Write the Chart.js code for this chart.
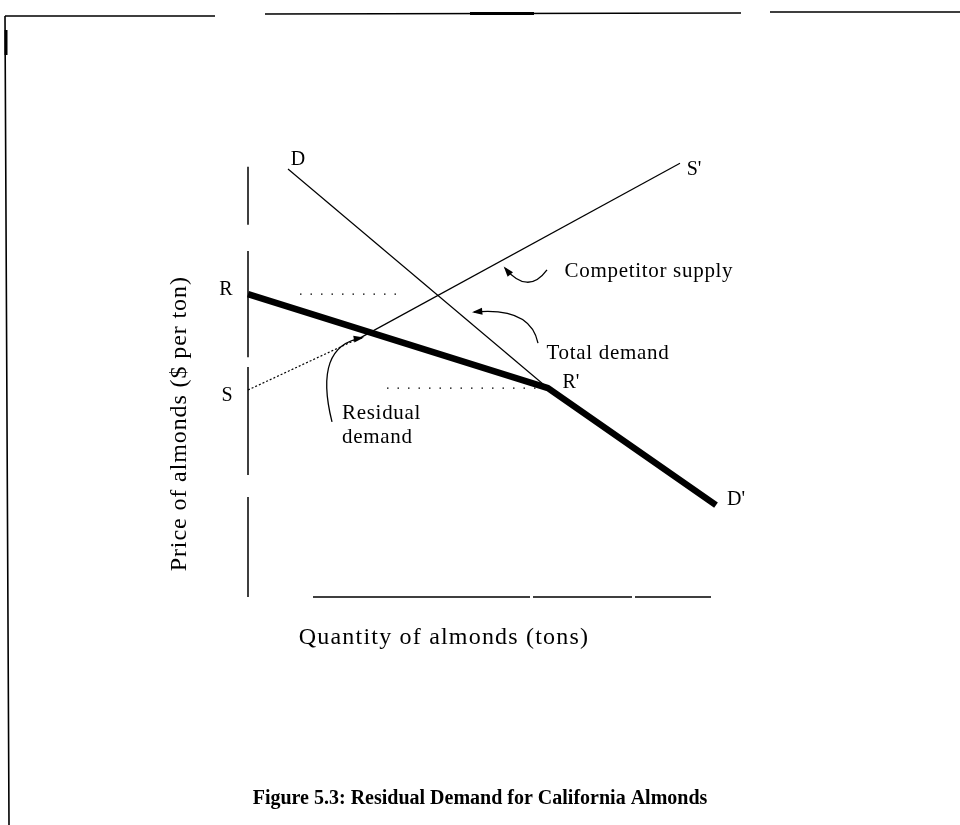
<!DOCTYPE html>
<html>
<head>
<meta charset="utf-8">
<script src="https://cdn.jsdelivr.net/npm/chart.js@4.4.1/dist/chart.umd.min.js"></script>
<style>
html,body{margin:0;padding:0;background:#fff;}
canvas{display:block;}
</style>
</head>
<body>
<canvas id="c" width="960" height="825" style="width:960px;height:825px"></canvas>
<script>
// ---- data (quantity, price in arbitrary units) ----
const totalDemandQ = [8, 60];
const totalDemandP = [95.1, 46.4];
const residualQ = [0, 60, 93.6];
const residualP = [67.3, 46.4, 20.4];
const supplyQ = [0, 22.8, 86.4];
const supplyP = [46.0, 57.8, 96.4];
const guideHighQ = [10.4, 30.4];
const guideHighP = [67.3, 67.3];
const guideLowQ = [27.8, 58.4];
const guideLowP = [46.4, 46.4];
const yAxisSegQ = [0, 0, null, 0, 0, null, 0, 0, null, 0, 0];
const yAxisSegP = [95.6, 82.7, null, 76.9, 53.3, null, 51.1, 27.1, null, 22.2, 0];
const xAxisSegQ = [13, 56.4, null, 57, 76.8, null, 77.4, 92.6];
const xAxisSegP = [0, 0, null, 0, 0, null, 0, 0];

const pts = (q, p) => q.map((v, i) => (v === null ? {x: NaN, y: NaN} : {x: v, y: p[i]}));

// annotation anchors (data units)
const curveLabels = [
  {t: 'R', x: -4.4, y: 68.2},
  {t: 'S', x: -4.2, y: 44.8},
  {t: 'D', x: 10, y: 97.1},
  {t: "S'", x: 89.2, y: 94.9},
  {t: "R'", x: 64.6, y: 47.6},
  {t: "D'", x: 97.6, y: 21.6}
];
const noteLabels = [
  {t: 'Competitor supply', x: 63.3, y: 72.4},
  {t: 'Total demand', x: 59.7, y: 54.2},
  {t: 'Residual', x: 18.8, y: 40.8},
  {t: 'demand', x: 18.8, y: 35.4}
];
const arrows = [
  {s: [59.8, 72.7], c: [56.0, 67.0], e: [51.4, 73.1]},
  {s: [58.0, 56.4], c: [56.5, 64.5], e: [45.2, 63.3]},
  {s: [16.8, 38.9], c: [13.0, 55.8], e: [22.8, 57.6]}
];
const xTitle = 'Quantity of almonds (tons)';
const yTitle = 'Price of almonds ($ per ton)';
const caption = 'Figure 5.3: Residual Demand for California Almonds';

const SERIF = '"Liberation Serif", "Times New Roman", serif';

const overlay = {
  id: 'overlay',
  afterDatasetsDraw(chart) {
    const ctx = chart.ctx;
    const xs = chart.scales.x, ys = chart.scales.y;
    const X = v => xs.getPixelForValue(v), Y = v => ys.getPixelForValue(v);
    ctx.save();
    ctx.fillStyle = '#000';
    ctx.strokeStyle = '#000';

    ctx.font = '20px ' + SERIF;
    ctx.textAlign = 'center';
    ctx.textBaseline = 'middle';
    curveLabels.forEach(l => ctx.fillText(l.t, X(l.x), Y(l.y)));

    ctx.font = '21px ' + SERIF;
    ctx.textAlign = 'left';
    ctx.letterSpacing = '0.7px';
    noteLabels.forEach(l => ctx.fillText(l.t, X(l.x), Y(l.y)));

    // arrows
    ctx.lineWidth = 1.3;
    arrows.forEach(a => {
      const sx = X(a.s[0]), sy = Y(a.s[1]);
      const cx = X(a.c[0]), cy = Y(a.c[1]);
      const ex = X(a.e[0]), ey = Y(a.e[1]);
      ctx.beginPath();
      ctx.moveTo(sx, sy);
      ctx.quadraticCurveTo(cx, cy, ex, ey);
      ctx.stroke();
      const ang = Math.atan2(ey - cy, ex - cx);
      const L = 9, W = 0.4;
      ctx.beginPath();
      ctx.moveTo(ex + 2 * Math.cos(ang), ey + 2 * Math.sin(ang));
      ctx.lineTo(ex - L * Math.cos(ang - W), ey - L * Math.sin(ang - W));
      ctx.lineTo(ex - L * Math.cos(ang + W), ey - L * Math.sin(ang + W));
      ctx.closePath();
      ctx.fill();
    });

    // axis titles
    ctx.font = '24px ' + SERIF;
    ctx.textAlign = 'center';
    ctx.letterSpacing = '1.2px';
    ctx.fillText(xTitle, X(39.2), Y(-9.1));
    ctx.save();
    ctx.letterSpacing = '0.9px';
    ctx.translate(X(-13.6), Y(38.5));
    ctx.rotate(-Math.PI / 2);
    ctx.fillText(yTitle, 0, 0);
    ctx.restore();

    // caption
    ctx.letterSpacing = '0px';
    ctx.font = 'bold 20px ' + SERIF;
    ctx.fillText(caption, chart.width / 2, 799);

    // scanned page frame
    ctx.lineWidth = 1.6;
    ctx.beginPath();
    ctx.moveTo(5, 16); ctx.lineTo(215, 16);
    ctx.moveTo(265, 14); ctx.lineTo(741, 13);
    ctx.moveTo(770, 12); ctx.lineTo(960, 12);
    ctx.moveTo(5, 16); ctx.lineTo(9, 825);
    ctx.stroke();
    ctx.lineWidth = 3;
    ctx.beginPath();
    ctx.moveTo(470, 13.5); ctx.lineTo(534, 13.5);
    ctx.moveTo(6, 30); ctx.lineTo(6, 55);
    ctx.stroke();
    ctx.restore();
  }
};

const thin = {borderColor: '#000', borderWidth: 1.3, pointRadius: 0, showLine: true, fill: false, spanGaps: false, clip: false};

new Chart(document.getElementById('c'), {
  type: 'scatter',
  data: {
    datasets: [
      Object.assign({}, thin, {label: 'y axis', data: pts(yAxisSegQ, yAxisSegP), borderWidth: 1.5}),
      Object.assign({}, thin, {label: 'x axis', data: pts(xAxisSegQ, xAxisSegP), borderWidth: 1.5}),
      Object.assign({}, thin, {label: 'Competitor supply (dotted)', data: pts(supplyQ.slice(0, 2), supplyP.slice(0, 2)), borderDash: [2, 2], borderWidth: 1.2}),
      Object.assign({}, thin, {label: 'Competitor supply', data: pts(supplyQ.slice(1), supplyP.slice(1)), borderWidth: 1.2}),
      Object.assign({}, thin, {label: 'Total demand', data: pts(totalDemandQ, totalDemandP), borderWidth: 1.2}),
      Object.assign({}, thin, {label: 'guide R', data: pts(guideHighQ, guideHighP), borderDash: [1.5, 9], borderWidth: 1.3}),
      Object.assign({}, thin, {label: "guide R'", data: pts(guideLowQ, guideLowP), borderDash: [1.5, 9], borderWidth: 1.3}),
      Object.assign({}, thin, {label: 'Residual demand', data: pts(residualQ, residualP), borderWidth: 6.5, borderJoinStyle: 'round', borderCapStyle: 'butt'})
    ]
  },
  options: {
    responsive: false,
    animation: false,
    devicePixelRatio: 1,
    layout: {padding: {left: 248, right: 212, top: 147, bottom: 228}},
    plugins: {legend: {display: false}, tooltip: {enabled: false}},
    scales: {
      x: {type: 'linear', min: 0, max: 100, display: false},
      y: {type: 'linear', min: 0, max: 100, display: false}
    }
  },
  plugins: [overlay]
});
</script>
</body>
</html>
